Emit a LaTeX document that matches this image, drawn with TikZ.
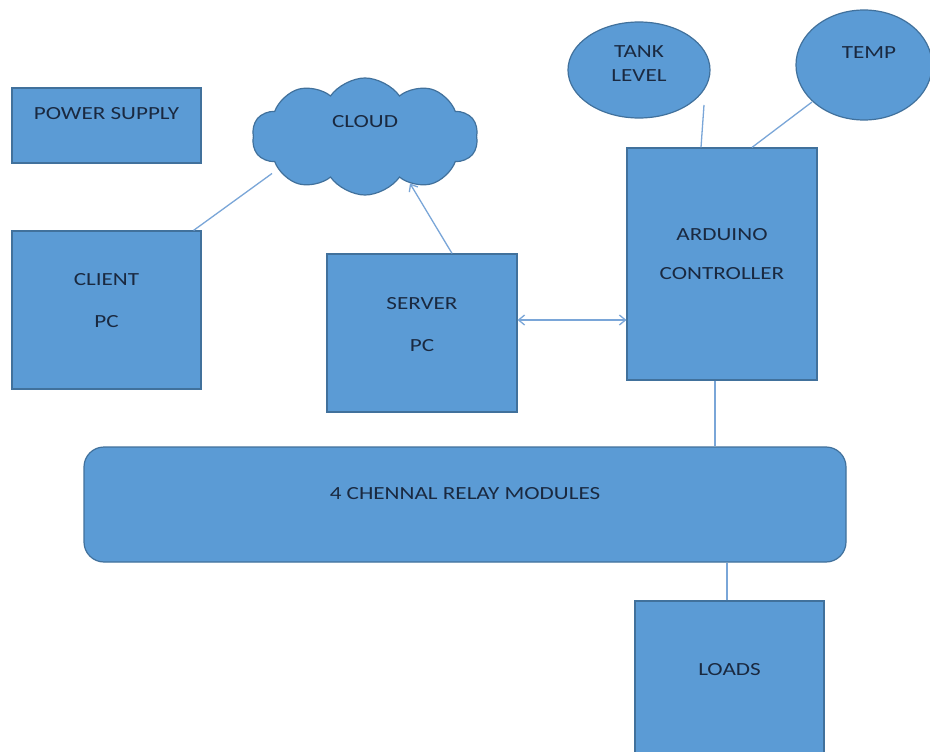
\documentclass[tikz,border=0pt]{standalone}
\usepackage{fontspec}
\newfontfamily\lblfont[FakeStretch=1.25]{Carlito}
\usetikzlibrary{shapes.symbols,shapes.geometric,arrows.meta}
\definecolor{fillc}{HTML}{5B9BD5}
\definecolor{edgec}{HTML}{41719C}
\definecolor{txtc}{HTML}{1A2940}
\definecolor{wirec}{HTML}{7AA6D8}
\tikzset{
  blk/.style={draw=edgec, fill=fillc, line width=1.2pt, inner sep=0pt, rectangle},
  lbl/.style={font=\lblfont\fontsize{18.5}{22}\selectfont, text=txtc, align=center},
  wire/.style={draw=wirec, line width=1.3pt},
  tip/.style={-{Straight Barb[length=6pt,width=10pt]}},
  tips/.style={{Straight Barb[length=6pt,width=10pt]}-{Straight Barb[length=6pt,width=10pt]}}
}
\begin{document}
\begin{tikzpicture}[x=1pt,y=-1pt]
\useasboundingbox (0,0) rectangle (930,752);
\fill[white] (0,0) rectangle (930,752);

\node[blk, minimum width=189pt, minimum height=75pt,
  label={[lbl, yshift=11.5pt]center:POWER SUPPLY}] (power) at (106.5,125.5) {};

\node[draw=edgec, fill=fillc, line width=1.2pt, shape=cloud, cloud puffs=10,
  cloud puff arc=110, aspect=1.9, minimum width=226pt, minimum height=117pt, inner sep=0pt,
  label={[lbl, yshift=15pt]center:CLOUD}] (cloud) at (365,136.5) {};

\node[blk, minimum width=189pt, minimum height=158pt,
  label={[lbl, yshift=9pt]center:CLIENT\\[20pt]PC}] (client) at (106.5,310) {};

\node[blk, minimum width=190pt, minimum height=158pt,
  label={[lbl, yshift=8pt]center:SERVER\\[20pt]PC}] (server) at (422,333) {};

\node[blk, minimum width=190pt, minimum height=232pt,
  label={[lbl, yshift=9.5pt]center:ARDUINO\\[17pt]CONTROLLER}] (arduino) at (722,264) {};

\node[draw=edgec, fill=fillc, line width=1.2pt, ellipse, inner sep=0pt,
  minimum width=142pt, minimum height=96pt,
  label={[lbl, yshift=6pt]center:TANK\\[2pt]LEVEL}] (tank) at (639,70) {};

\node[draw=edgec, fill=fillc, line width=1.2pt, ellipse, inner sep=0pt,
  minimum width=136pt, minimum height=110pt,
  label={[lbl, xshift=5pt, yshift=12pt]center:TEMP}] (temp) at (864,65) {};

\node[blk, rounded corners=20pt, minimum width=762pt, minimum height=115pt,
  label={[lbl, yshift=10.5pt]center:4 CHENNAL RELAY MODULES}] (relay) at (465,504.5) {};

\node[blk, minimum width=189pt, minimum height=160pt,
  label={[lbl, yshift=11pt]center:LOADS}] (loads) at (729.5,681) {};

% connectors
\draw[wire] ([xshift=-8pt]client.north east) -- ([xshift=-93pt,yshift=-37pt]cloud.center);
\draw[wire, tip] ([xshift=30pt]server.north) -- ([xshift=45pt,yshift=-47pt]cloud.center);
\draw[wire, tips] ([yshift=13pt]server.east) -- ([yshift=13pt]server.east -| arduino.west);
\draw[wire] ([xshift=65pt,yshift=-35pt]tank.center) -- ([xshift=-21pt]arduino.north);
\draw[wire] ([xshift=-52pt,yshift=-37pt]temp.center) -- ([xshift=30pt]arduino.north);
\draw[wire] ([xshift=-7pt]arduino.south) -- ([xshift=-7pt]arduino.south |- relay.north);
\draw[wire] ([xshift=-2.5pt]loads.north) -- ([xshift=-2.5pt]loads.north |- relay.south);
\end{tikzpicture}
\end{document}
